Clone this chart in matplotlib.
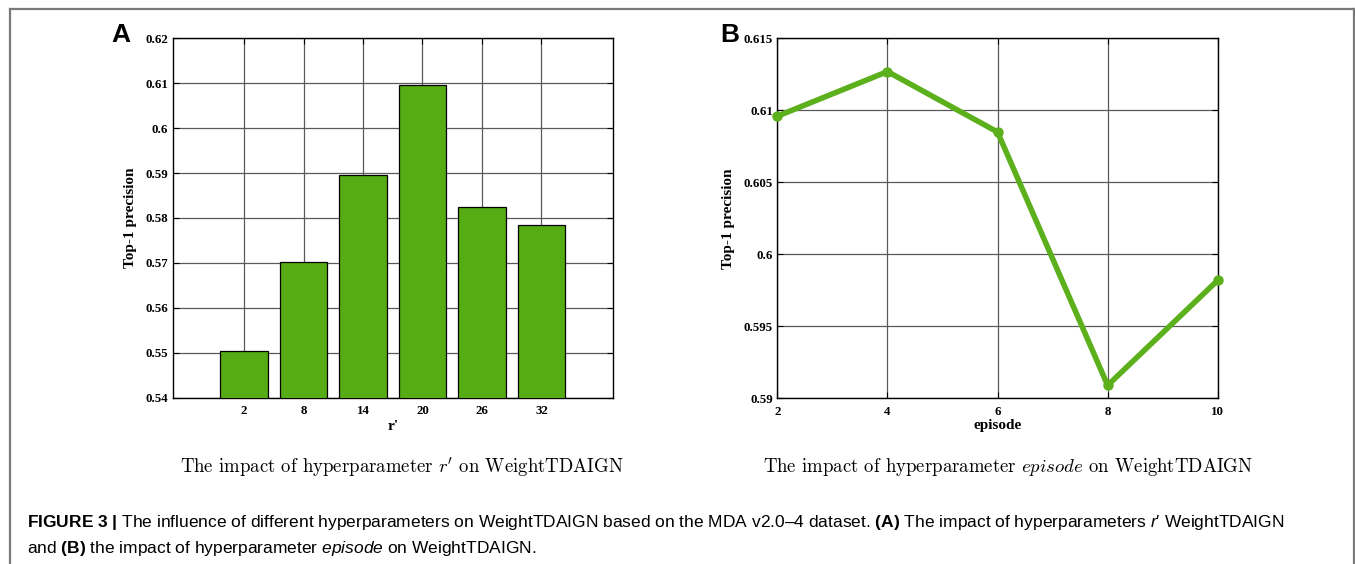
import matplotlib
matplotlib.use("Agg")
import matplotlib.pyplot as plt
from matplotlib.lines import Line2D

# ── Données ──────────────────────────────────────────────────────────────────
r_labels = ["2", "8", "14", "20", "26", "32"]
r_prec = [0.5505, 0.5701, 0.5895, 0.6097, 0.5824, 0.5785]

episodes = [2, 4, 6, 8, 10]
ep_prec = [0.6096, 0.6127, 0.6085, 0.5909, 0.5982]

GREEN_BAR = "#56ac14"
GREEN_LINE = "#5cb01c"
GRID_C = "#5a5a5a"

# mathtext "custom" = police sans de la légende ; "cm" pour les sous-titres
plt.rcParams["mathtext.fontset"] = "custom"
plt.rcParams["mathtext.rm"] = "Liberation Sans"
plt.rcParams["mathtext.it"] = "Liberation Sans:italic"
plt.rcParams["mathtext.bf"] = "Liberation Sans:bold"
SERIF = ["Liberation Serif", "DejaVu Serif"]

fig = plt.figure(figsize=(13.55, 5.64), dpi=100)

# cadre de la figure (gauche, haut, droite)
for xs, ys in [([9.5 / 1355, 9.5 / 1355], [0, 1 - 8.5 / 564]),
               ([9.5 / 1355, 1 - 1.5 / 1355], [1 - 8.5 / 564, 1 - 8.5 / 564]),
               ([1 - 1.5 / 1355, 1 - 1.5 / 1355], [0, 1 - 8.5 / 564])]:
    fig.add_artist(Line2D(xs, ys, transform=fig.transFigure, color="#7a7a7a", lw=1.6))


def style_axes(ax):
    ax.grid(True, color=GRID_C, lw=0.9)
    ax.set_axisbelow(True)
    ax.tick_params(direction="in", length=4, width=0.8, top=True, right=True,
                   labelsize=9.3, pad=3.2)
    ax.tick_params(axis="x", pad=5.5)
    for lab in ax.get_xticklabels() + ax.get_yticklabels():
        lab.set_fontfamily(SERIF)
        lab.set_fontweight("bold")
    for s in ax.spines.values():
        s.set_linewidth(1.0)
        s.set_color("black")


# ── Panneau A : barres ───────────────────────────────────────────────────────
axA = fig.add_axes([0.1275, 0.2949, 0.3247, 0.6372])
xpos = list(range(len(r_labels)))
axA.bar(xpos, r_prec, width=0.8, color=GREEN_BAR, edgecolor="black", lw=0.9, zorder=3)
axA.set_xlim(-1.2, 6.2)
axA.set_ylim(0.54, 0.62)
axA.set_xticks(xpos)
axA.set_xticklabels(r_labels)
axA.set_yticks([0.54, 0.55, 0.56, 0.57, 0.58, 0.59, 0.60, 0.61, 0.62])
axA.set_yticklabels(["0.54", "0.55", "0.56", "0.57", "0.58", "0.59", "0.6", "0.61", "0.62"])
style_axes(axA)
axA.set_xlabel("r'", family=SERIF, fontweight="bold", fontsize=11, labelpad=2)
axA.set_ylabel("Top-1 precision", family=SERIF, fontweight="bold", fontsize=11, labelpad=6)

# ── Panneau B : courbe ───────────────────────────────────────────────────────
axB = fig.add_axes([0.5737, 0.2938, 0.325, 0.638])
axB.plot(episodes, ep_prec, color=GREEN_LINE, lw=4, marker="o", markersize=6.5,
         solid_joinstyle="round", zorder=3, clip_on=False)
axB.set_xlim(2, 10)
axB.set_ylim(0.59, 0.615)
axB.set_xticks(episodes)
axB.set_yticks([0.59, 0.595, 0.60, 0.605, 0.61, 0.615])
axB.set_yticklabels(["0.59", "0.595", "0.6", "0.605", "0.61", "0.615"])
style_axes(axB)
axB.set_xlabel("episode", family=SERIF, fontweight="bold", fontsize=11, labelpad=1)
axB.set_ylabel("Top-1 precision", family=SERIF, fontweight="bold", fontsize=11, labelpad=6)

# lettres des panneaux
fig.text(111 / 1355, 1 - 35 / 564, "A", fontsize=19, fontweight="bold",
         family="Liberation Sans", va="center", ha="left")
fig.text(720 / 1355, 1 - 35 / 564, "B", fontsize=19, fontweight="bold",
         family="Liberation Sans", va="center", ha="left")

# sous-titres
fig.text(402 / 1355, 1 - 467 / 564, r"The impact of hyperparameter $r'$ on WeightTDAIGN",
         family="cmr10", fontsize=13.5, ha="center", va="center", math_fontfamily="cm")
fig.text(1008 / 1355, 1 - 467 / 564,
         r"The impact of hyperparameter $\mathit{episode}$ on WeightTDAIGN",
         family="cmr10", fontsize=13.5, ha="center", va="center", math_fontfamily="cm")

# légende de la figure
cap_kw = dict(fontsize=12.55, family="Liberation Sans", va="center", ha="left")
fig.text(27 / 1355, 1 - 522 / 564,
         r"$\mathbf{FIGURE\ 3\ |}$ The influence of different hyperparameters on WeightTDAIGN "
         r"based on the MDA v2.0–4 dataset. $\mathbf{(A)}$ The impact of hyperparameters "
         r"$\mathit{r}$′ WeightTDAIGN", **cap_kw)
fig.text(27 / 1355, 1 - 548 / 564,
         r"and $\mathbf{(B)}$ the impact of hyperparameter $\mathit{episode}$ on WeightTDAIGN.",
         **cap_kw)

fig.savefig("out.png", dpi=100)
